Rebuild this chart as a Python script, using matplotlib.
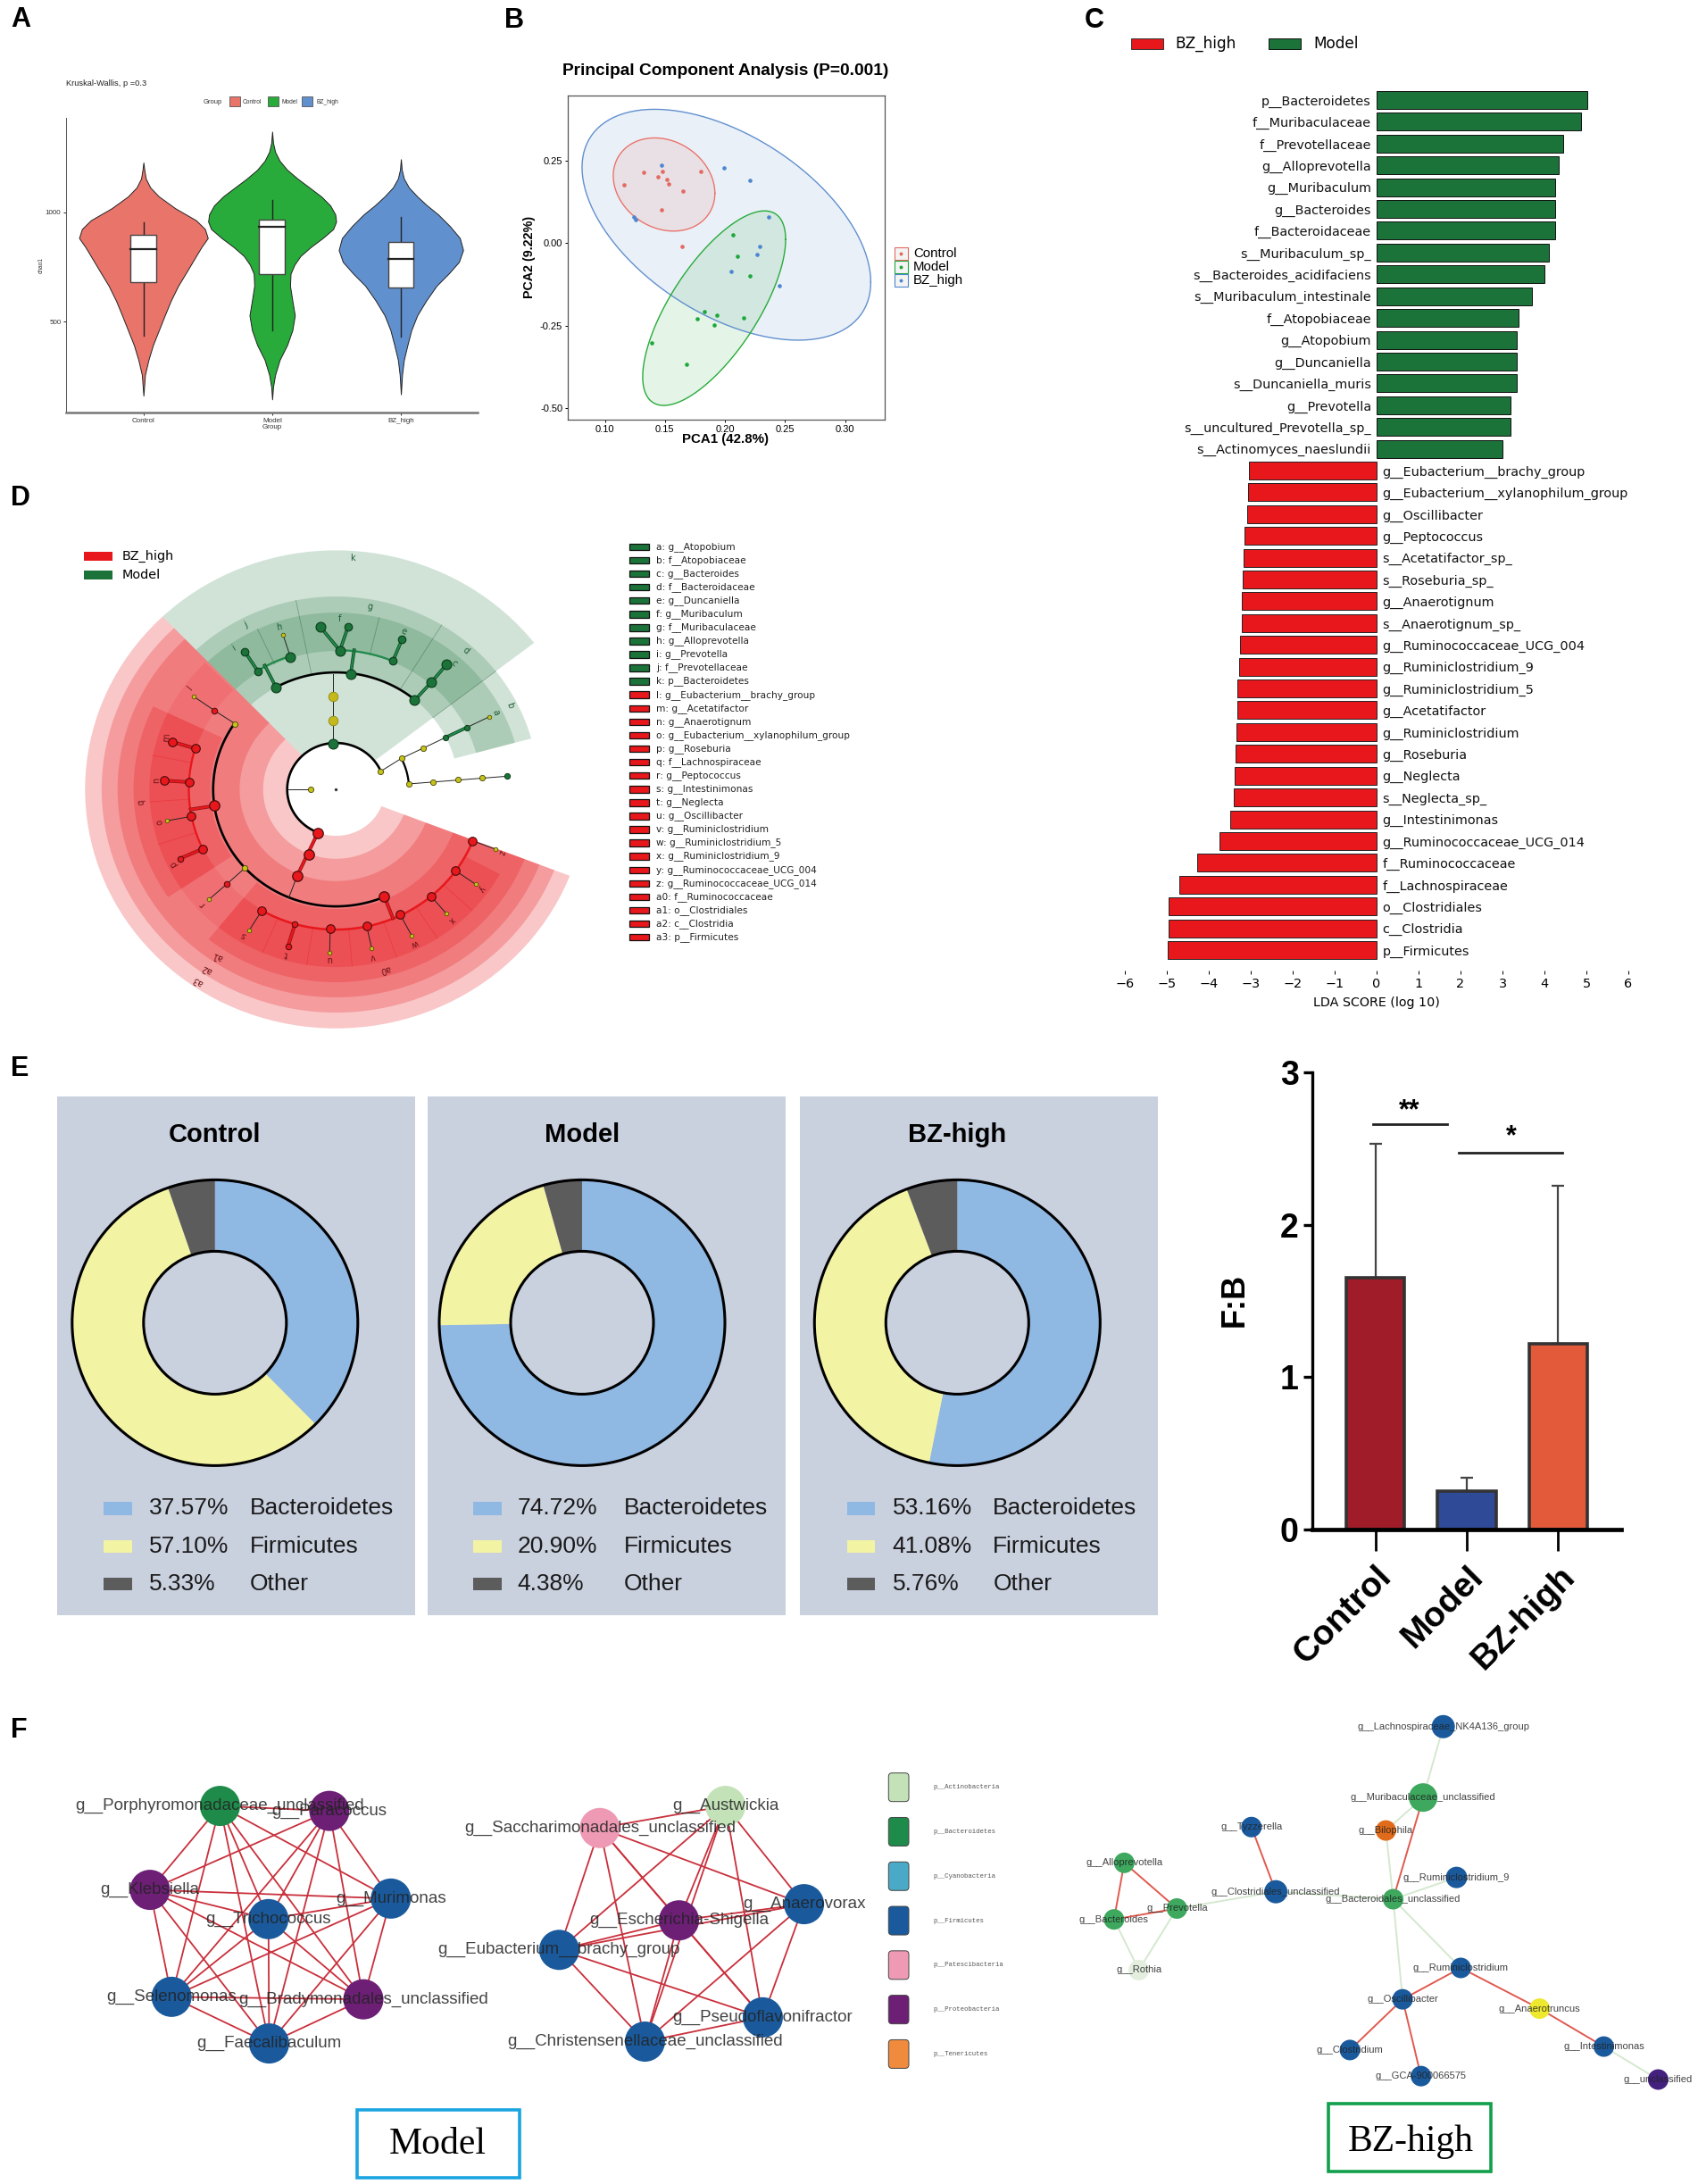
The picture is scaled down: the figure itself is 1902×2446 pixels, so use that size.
"""Figura composta A-F: microbiota (chao1, PCA, LEfSe, F:B e redes de correlação)."""

from itertools import combinations

import numpy as np
import matplotlib
matplotlib.use("Agg")
import matplotlib.pyplot as plt
from matplotlib.patches import FancyBboxPatch, Polygon, Rectangle
from matplotlib.transforms import ScaledTranslation

W, H = 1902, 2446
SANS = "Liberation Sans"
SERIF = "Liberation Serif"
DEJAVU = "DejaVu Sans"

GROUPS = ["Control", "Model", "BZ_high"]
GROUP_COLORS = ["#E9746A", "#28AB3A", "#6190CE"]

# --- A: violinos chao1 (valor, meia largura)
control_vals = [1227, 1194, 1154, 1113, 1072, 1018, 963, 923, 882, 841, 800, 732, 664, 596, 529, 461, 393, 325, 257, 162]
control_half = [0, .007, .018, .053, .12, .247, .409, .478, .50, .451, .409, .34, .27, .213, .166, .12, .074, .039, .012, 0]
model_vals = [1368, 1317, 1276, 1235, 1194, 1154, 1113, 1072, 1031, 990, 957, 923, 882, 841, 800, 760, 719, 664, 596, 529, 461, 393, 325, 257, 202, 145]
model_half = [0, .007, .023, .058, .116, .196, .289, .381, .451, .49, .497, .474, .393, .30, .22, .173, .143, .139, .157, .176, .157, .116, .058, .023, .007, 0]
bz_vals = [1242, 1194, 1154, 1113, 1072, 1031, 990, 936, 882, 827, 773, 719, 664, 596, 529, 461, 393, 325, 257, 168]
bz_half = [0, .007, .023, .062, .127, .203, .289, .381, .458, .483, .451, .37, .277, .196, .127, .081, .051, .023, .009, 0]
box_q3 = [897, 966, 865]
box_median = [830, 935, 787]
box_q1 = [682, 717, 658]
whisker_hi = [952, 1056, 977]
whisker_lo = [436, 461, 433]

# --- B: PCA
pca_control_x = [.116, .132, .148, .144, .152, .153, .180, .165, .147, .164]
pca_control_y = [.178, .214, .217, .200, .193, .181, .218, .157, .102, -.010]
pca_model_x = [.207, .210, .2205, .183, .193, .177, .191, .2156, .139, .168]
pca_model_y = [.025, -.040, -.099, -.208, -.218, -.229, -.247, -.227, -.302, -.366]
pca_bz_x = [.147, .199, .2205, .124, .1256, .236, .229, .2265, .205, .245]
pca_bz_y = [.236, .229, .190, .079, .072, .079, -.009, -.035, -.085, -.128]
# elipses: centro x, semi x, centro y, semi y, fase
ellipse_bz = [.2012, .1202, .056, .350, -.52]
ellipse_control = [.1493, .0423, .178, .1412, -.188]
ellipse_model = [.191, .0595, -.197, .295, .783]

# --- C: LDA
lda_model_labels = [
    "p__Bacteroidetes", "f__Muribaculaceae", "f__Prevotellaceae", "g__Alloprevotella",
    "g__Muribaculum", "g__Bacteroides", "f__Bacteroidaceae", "s__Muribaculum_sp_",
    "s__Bacteroides_acidifaciens", "s__Muribaculum_intestinale", "f__Atopobiaceae",
    "g__Atopobium", "g__Duncaniella", "s__Duncaniella_muris", "g__Prevotella",
    "s__uncultured_Prevotella_sp_", "s__Actinomyces_naeslundii",
]
lda_model_scores = [5.02, 4.88, 4.45, 4.33, 4.26, 4.26, 4.26, 4.10, 4.01, 3.71, 3.38, 3.34, 3.33, 3.34, 3.20, 3.20, 3.01]
lda_bz_labels = [
    "g__Eubacterium__brachy_group", "g__Eubacterium__xylanophilum_group", "g__Oscillibacter",
    "g__Peptococcus", "s__Acetatifactor_sp_", "s__Roseburia_sp_", "g__Anaerotignum",
    "s__Anaerotignum_sp_", "g__Ruminococcaceae_UCG_004", "g__Ruminiclostridium_9",
    "g__Ruminiclostridium_5", "g__Acetatifactor", "g__Ruminiclostridium", "g__Roseburia",
    "g__Neglecta", "s__Neglecta_sp_", "g__Intestinimonas", "g__Ruminococcaceae_UCG_014",
    "f__Ruminococcaceae", "f__Lachnospiraceae", "o__Clostridiales", "c__Clostridia", "p__Firmicutes",
]
lda_bz_scores = [-3.05, -3.07, -3.08, -3.14, -3.18, -3.20, -3.22, -3.22, -3.25, -3.28, -3.31, -3.32,
                 -3.34, -3.36, -3.38, -3.41, -3.50, -3.74, -4.27, -4.70, -4.95, -4.95, -4.98]
RED = "#E8171C"
GREEN = "#1B7339"

# --- D: cladograma
clade_legend = [
    "a: g__Atopobium", "b: f__Atopobiaceae", "c: g__Bacteroides", "d: f__Bacteroidaceae",
    "e: g__Duncaniella", "f: g__Muribaculum", "g: f__Muribaculaceae", "h: g__Alloprevotella",
    "i: g__Prevotella", "j: f__Prevotellaceae", "k: p__Bacteroidetes",
    "l: g__Eubacterium__brachy_group", "m: g__Acetatifactor", "n: g__Anaerotignum",
    "o: g__Eubacterium__xylanophilum_group", "p: g__Roseburia", "q: f__Lachnospiraceae",
    "r: g__Peptococcus", "s: g__Intestinimonas", "t: g__Neglecta", "u: g__Oscillibacter",
    "v: g__Ruminiclostridium", "w: g__Ruminiclostridium_5", "x: g__Ruminiclostridium_9",
    "y: g__Ruminococcaceae_UCG_004", "z: g__Ruminococcaceae_UCG_014", "a0: f__Ruminococcaceae",
    "a1: o__Clostridiales", "a2: c__Clostridia", "a3: p__Firmicutes",
]
# setores: theta1, theta2, r interno, r externo, alfa
red_sectors = [
    (133.7, 338.8, 52, 267.7, .24), (133.7, 338.8, 77.7, 250, .24), (133.7, 338.8, 102.7, 233, .24),
    (154.5, 214, 134, 216, .24), (231, 338.8, 134, 216, .24),
    (154.5, 214, 156, 199, .24), (231, 331.5, 156, 199, .24),
    (134.5, 154.5, 156, 199, .12), (214, 231, 156, 199, .12),
]
green_sectors = [
    (37.8, 133.7, 52, 267.7, .2), (101.4, 133.7, 131, 216, .2), (58.5, 101.4, 131, 216, .2),
    (37.8, 58.5, 131, 216, .2), (15.3, 37.8, 131, 216, .2), (101.4, 133.7, 155, 198, .2),
    (58.5, 101.4, 155, 198, .2), (37.8, 58.5, 155, 198, .2), (15.3, 37.8, 155, 198, .2),
]
# arcos: theta1, theta2, raio, cor, espessura
clade_arcs = [
    (23, 248, 52, "black", 1.9), (50, 119, 131, "black", 1.9), (146, 293, 131, "black", 1.9),
    (4.4, 27, 78, "black", 1.6), (108, 122, 157, "#1F8A4A", 1.6), (67, 88.5, 156, "#1F8A4A", 1.6),
    (163, 205, 157, RED, 1.6), (240, 338.3, 157, RED, 1.8),
]
thin_x0 = [668, 705, 743, 820, 718, 585, 505, 453, 510, 522, 336, 413, 377, 430, 399, 460, 580, 644, 703, 757, 800, 830]
thin_y0 = [843, 807, 779, 722, 877, 766, 891, 568, 528, 1129, 966, 712, 676, 1108, 1151, 1224, 1274, 1267, 1236, 1185, 1115, 1033]
thin_x1 = [705, 743, 782, 859, 890, 585, 546, 430, 497, 507, 294, 377, 341, 399, 367, 438, 579, 653, 723, 784, 835, 870]
thin_y1 = [807, 779, 750, 693, 856, 575, 891, 514, 467, 1190, 978, 676, 638, 1151, 1194, 1278, 1339, 1329, 1293, 1233, 1152, 1056]
thick_green_x0 = [782, 616, 485, 597, 597, 690, 728, 757, 453]
thick_green_y0 = [750, 575, 612, 511, 511, 540, 648, 599, 568]
thick_green_x1 = [820, 622, 465, 563, 611, 706, 757, 784, 430]
thick_green_y1 = [722, 510, 552, 447, 447, 481, 599, 550, 514]
thick_red_x0 = [558, 675, 377, 343, 332, 356, 518]
thick_red_y0 = [1012, 1186, 937, 780, 872, 1055, 1262]
thick_red_x1 = [522, 690, 335, 302, 289, 316, 506]
thick_red_y1 = [1129, 1245, 947, 761, 868, 1082, 1322]
green_big_x = [585, 616, 485, 728, 597, 563, 510, 757, 784]
green_big_y = [766, 575, 612, 648, 511, 447, 528, 599, 550]
green_mid_x = [453, 690, 611, 706, 430]
green_mid_y = [568, 540, 447, 481, 514]
green_small_x = [782, 820, 890]
green_small_y = [750, 722, 856]
yellow_big_x = [585, 585]
yellow_big_y = [638, 702]
yellow_mid_x = [743, 705, 668, 718, 761, 804, 847, 546, 413, 430]
yellow_mid_y = [779, 807, 843, 877, 872, 866, 861, 891, 712, 1108]
yellow_tip_x = [497, 859, 341, 294, 367, 438, 579, 653, 723, 784, 835, 870]
yellow_tip_y = [467, 693, 638, 978, 1194, 1278, 1339, 1329, 1293, 1233, 1152, 1056]
red_big_x = [558, 542, 522, 675, 377]
red_big_y = [1012, 1071, 1129, 1186, 937]
red_mid_x = [343, 332, 336, 356, 302, 289, 460, 580, 644, 703, 757, 800, 830]
red_mid_y = [780, 872, 966, 1055, 761, 868, 1224, 1274, 1267, 1236, 1185, 1115, 1033]
red_small_x = [316, 377, 399, 518, 506]
red_small_y = [1082, 676, 1151, 1262, 1322]
clade_tags = ["k", "j", "h", "i", "f", "g", "e", "d", "c", "b", "a", "l", "m", "n", "q", "o", "p", "r", "s",
              "t", "u", "v", "w", "x", "y", "z", "a0", "a1", "a2", "a3"]
clade_tag_x = [620, 432, 490, 411, 596, 649, 709, 818, 798, 896, 870, 334, 293, 275, 248, 280, 305, 355, 428,
               503, 578, 655, 728, 793, 845, 880, 677, 382, 363, 348]
clade_tag_y = [258, 441, 448, 505, 423, 392, 459, 512, 545, 662, 680, 615, 750, 868, 928, 982, 1097, 1208, 1293,
               1343, 1358, 1350, 1315, 1250, 1165, 1065, 1385, 1350, 1385, 1417]
clade_tag_rot = [0, 25, 10, 30, 0, -10, -20, -40, -45, -70, -70, 50, 85, 90, 95, 100, 120, 135, 150,
                 170, 180, 190, 205, 225, 235, 250, 195, 160, 155, 150]

# --- E: phyla e razão F:B
donut_titles = ["Control", "Model", "BZ-high"]
phyla_names = ["Bacteroidetes", "Firmicutes", "Other"]
phyla_colors = ["#8FB8E3", "#F3F3A4", "#5C5C5C"]
control_phyla = [37.57, 57.10, 5.33]
model_phyla = [74.72, 20.90, 4.38]
bz_phyla = [53.16, 41.08, 5.76]
fb_labels = ["Control", "Model", "BZ-high"]
fb_means = [1.65, 0.25, 1.22]
fb_tops = [2.53, 0.338, 2.254]
fb_colors = ["#A01C28", "#2F4A96", "#E25A3A"]

# --- F: redes
ACTINO, BACTERO, CYANO, FIRMI, PATESCI, PROTEO, TENERI = (
    "#C3E2B8", "#1E8B4A", "#4BA9C8", "#1A5A9C", "#EE9AB4", "#6C1F75", "#F08A3C")
phylum_names = ["p__Actinobacteria", "p__Bacteroidetes", "p__Cyanobacteria", "p__Firmicutes",
                "p__Patescibacteria", "p__Proteobacteria", "p__Tenericutes"]
phylum_colors = [ACTINO, BACTERO, CYANO, FIRMI, PATESCI, PROTEO, TENERI]

net1_names = ["g__Porphyromonadaceae_unclassified", "g__Paracoccus", "g__Klebsiella", "g__Murimonas",
              "g__Trichococcus", "g__Selenomonas", "g__Bradymonadales_unclassified", "g__Faecalibaculum"]
net1_x = [336, 503, 229, 597, 410, 262, 555, 411]
net1_y = [352, 368, 622, 650, 716, 966, 974, 1116]
net1_colors = [BACTERO, PROTEO, PROTEO, FIRMI, FIRMI, FIRMI, PROTEO, FIRMI]
net2_names = ["g__Austwickia", "g__Saccharimonadales_unclassified", "g__Anaerovorax", "g__Escherichia-Shigella",
              "g__Eubacterium__brachy_group", "g__Pseudoflavonifractor", "g__Christensenellaceae_unclassified"]
net2_x = [1108, 916, 1228, 1037, 854, 1165, 985]
net2_y = [352, 423, 668, 720, 815, 1032, 1110]
net2_colors = [ACTINO, PATESCI, FIRMI, PROTEO, FIRMI, FIRMI, FIRMI]

net3_names = ["g__Lachnospiraceae_NK4A136_group", "g__Muribaculaceae_unclassified", "g__Bilophila", "g__Tyzzerella",
              "g__Alloprevotella", "g__Prevotella", "g__Bacteroides", "g__Rothia", "g__Clostridiales_unclassified",
              "g__Bacteroidales_unclassified", "g__Ruminiclostridium_9", "g__Ruminiclostridium", "g__Oscillibacter",
              "g__Anaerotruncus", "g__Clostridium", "g__GCA-900066575", "g__Intestinimonas", "g__unclassified"]
net3_x = [973, 926, 839, 525, 228, 351, 204, 262, 582, 856, 1004, 1014, 878, 1198, 755, 921, 1348, 1475]
net3_y = [97, 325, 431, 420, 535, 682, 717, 880, 628, 652, 582, 873, 974, 1004, 1137, 1221, 1126, 1232]
net3_sizes = [26, 32, 23, 23, 23, 23, 23, 23, 26, 23, 24, 23, 23, 23, 23, 23, 23, 23]
net3_colors = [FIRMI, "#3DA85E", "#E06B1A", FIRMI, "#3DA85E", "#3DA85E", "#3DA85E", "#E3EEDF", FIRMI,
               "#3DA85E", FIRMI, FIRMI, FIRMI, "#EEE82F", FIRMI, FIRMI, FIRMI, "#43217F"]
net3_pos_edges = [(0, 1), (1, 2), (2, 9), (9, 10), (9, 8), (8, 5), (9, 11), (9, 12), (6, 7), (5, 7), (16, 17)]
net3_neg_edges = [(1, 9), (3, 8), (4, 6), (4, 5), (6, 5), (11, 12), (12, 14), (12, 15), (11, 13), (13, 16)]


fig = plt.figure(figsize=(W / 100, H / 100), dpi=100, facecolor="white")


def panel_ax(x0, y0, x1, y1, **kw):
    """Eixos a partir de pixels da figura (origem no canto superior esquerdo)."""
    return fig.add_axes([x0 / W, 1 - y1 / H, (x1 - x0) / W, (y1 - y0) / H], **kw)


def pixel_ax(zorder):
    a = panel_ax(0, 0, W, H)
    a.set_xlim(0, W)
    a.set_ylim(H, 0)
    a.axis("off")
    a.set_zorder(zorder)
    a.patch.set_alpha(0)
    return a


back = pixel_ax(-5)
page = pixel_ax(10)


def label(x, y, s, size=10, family=SANS, ha="left", va="center", **kw):
    page.text(x, y, s, fontsize=size, family=family, ha=ha, va=va, **kw)


for letter, lx, ly in [("A", 23, 22), ("B", 576, 23), ("C", 1226, 23), ("D", 23, 558), ("E", 22, 1197), ("F", 21, 1938)]:
    label(lx, ly, letter, size=22, weight="bold", ha="center")

# ---------- A
ax = panel_ax(74, 132, 535, 462)
ax.set_xlim(0.399, 3.596)
ax.set_ylim(85, 1431)
series = [(control_vals, control_half), (model_vals, model_half), (bz_vals, bz_half)]
for i, (vals, half) in enumerate(series):
    v, h = np.array(vals), np.array(half)
    ax.fill_betweenx(v, i + 1 - h, i + 1 + h, facecolor=GROUP_COLORS[i], edgecolor="#222222", lw=0.7)
    ax.plot([i + 1, i + 1], [whisker_lo[i], whisker_hi[i]], color="#222222", lw=1, zorder=3)
    ax.add_patch(Rectangle((i + 0.9, box_q1[i]), 0.2, box_q3[i] - box_q1[i], fc="white", ec="#444444", lw=1, zorder=4))
    ax.plot([i + 0.9, i + 1.1], [box_median[i]] * 2, color="#222222", lw=1.6, zorder=5)
ax.set_xticks([1, 2, 3], GROUPS, fontsize=5.8, family=SANS, color="#333333")
ax.set_yticks([500, 1000], ["500", "1000"], fontsize=5.8, family=SANS, color="#333333")
ax.tick_params(length=2, width=0.6, pad=2)
for side in ("top", "right"):
    ax.spines[side].set_visible(False)
ax.spines["left"].set_linewidth(0.7)
ax.spines["left"].set_color("#555555")
ax.spines["bottom"].set_linewidth(1.8)
ax.spines["bottom"].set_color("#777777")
label(73.7, 94, "Kruskal-Wallis, p =0.3", size=6.7, color="#222222")
label(228, 114, "Group", size=5.5, color="#333333")
for sx, tx, name, col in zip([256.6, 299.5, 338.3], [271.6, 315.4, 354.2], GROUPS, GROUP_COLORS):
    page.add_patch(Rectangle((sx, 108), 12, 11, fc=col, ec="#555555", lw=0.6))
    label(tx, 114, name, size=4.8, color="#333333")
label(45.8, 297, "chao1", size=4.8, ha="center", rotation=90, color="#333333")
label(304.5, 479, "Group", size=5.8, ha="center", color="#333333")

# ---------- B
ax = panel_ax(635.7, 107, 991.4, 470)
ax.set_xlim(.0689, .3333)
ax.set_ylim(-.535, .4477)
t = np.radians(np.arange(0, 361, 3))
for params, col, fill_a in [(ellipse_bz, GROUP_COLORS[2], .13), (ellipse_control, GROUP_COLORS[0], .12), (ellipse_model, GROUP_COLORS[1], .12)]:
    cx, rx, cy, ry, phi = params
    ex, ey = cx + rx * np.cos(t), cy + ry * np.sin(t + phi)
    ax.fill(ex, ey, facecolor=col, alpha=fill_a, lw=0)
    ax.plot(ex, ey, color=col, lw=1)
for xs, ys, col in [(pca_control_x, pca_control_y, "#E26A60"), (pca_model_x, pca_model_y, "#1EA83C"), (pca_bz_x, pca_bz_y, "#4C86D0")]:
    ax.scatter(xs, ys, s=11, color=col, lw=0, zorder=4)
ax.set_xticks([.10, .15, .20, .25, .30], ["0.10", "0.15", "0.20", "0.25", "0.30"], fontsize=8, family=SANS)
ax.set_yticks([-.5, -.25, 0, .25], ["-0.50", "-0.25", "0.00", "0.25"], fontsize=8, family=SANS)
ax.tick_params(length=2, width=0.7, pad=2)
for sp in ax.spines.values():
    sp.set_color("#555555")
    sp.set_linewidth(0.9)
label(813, 79, "Principal Component Analysis (P=0.001)", size=13.8, weight="bold", ha="center")
label(813, 492, "PCA1 (42.8%)", size=10.8, weight="bold", ha="center")
label(592.6, 288, "PCA2 (9.22%)", size=10.3, weight="bold", ha="center", rotation=90)
for row, (name, col) in enumerate(zip(GROUPS, ["#E26A60", "#1EA83C", "#4C86D0"])):
    yy = 284 + 15 * row
    page.add_patch(Rectangle((1002, yy - 7), 14.5, 14, fc="#F4F4F4", ec=col, lw=0.8))
    page.scatter([1009.2], [yy], s=8, color=col, lw=0)
    label(1023, yy, name, size=10.8)

# ---------- C
ax = panel_ax(1260, 91.5, 1824, 1086.9)
ax.set_xlim(-6, 6)
ax.set_ylim((1086.9 - 112) / 24.41, (91.5 - 112) / 24.41)
n_green = len(lda_model_scores)
ax.barh(np.arange(n_green), lda_model_scores, height=.82, color=GREEN, edgecolor="#111111", lw=0.7)
red_pos = np.arange(len(lda_bz_scores)) + n_green
ax.barh(red_pos, lda_bz_scores, height=.82, color=RED, edgecolor="#222222", lw=0.7)
for i, s in enumerate(lda_model_labels):
    ax.text(-.13, i + .07, s, ha="right", va="center", fontsize=10.4, family=DEJAVU, color="#111111")
for i, s in zip(red_pos, lda_bz_labels):
    ax.text(.14, i + .07, s, ha="left", va="center", fontsize=10.4, family=DEJAVU, color="#111111")
ax.set_xticks(np.arange(-6, 7))
ax.tick_params(axis="x", length=3, width=0.7, labelsize=10.4, pad=3)
ax.set_yticks([])
for sp in ax.spines.values():
    sp.set_visible(False)
label(1542, 1122.5, "LDA SCORE (log 10)", size=10.3, family=DEJAVU, ha="center")
page.add_patch(Rectangle((1267.2, 43), 36, 12, fc=RED, ec="#333333", lw=0.7))
label(1316.4, 49, "BZ_high", size=12.2, family=DEJAVU)
page.add_patch(Rectangle((1420.7, 43), 36, 12, fc=GREEN, ec="#111111", lw=0.7))
label(1470.9, 49, "Model", size=12.2, family=DEJAVU)

# ---------- D (eixos em unidades do recorte; a figura é levemente esticada em x)
ax = panel_ax(0, 520, 1000, 1160)
ax.set_xlim(0, 1568)
ax.set_ylim(1568, 0)
ax.axis("off")
CX, CY, SX, SY = 590, 892, 1.646, 2.45


def polar_xy(theta_deg, r):
    a = np.radians(theta_deg)
    return CX + SX * r * np.cos(a), CY - SY * r * np.sin(a)


def sector(th1, th2, r0, r1, color, alpha):
    th = np.linspace(th1, th2, 80)
    xo, yo = polar_xy(th, r1)
    xi, yi = polar_xy(th[::-1], r0)
    ax.add_patch(Polygon(np.c_[np.r_[xo, xi], np.r_[yo, yi]], fc=color, alpha=alpha, lw=0, zorder=1))


for th1, th2, r0, r1, al in red_sectors:
    sector(th1, th2, r0, r1, RED, al)
for th1, th2, r0, r1, al in green_sectors:
    sector(th1, th2, r0, r1, GREEN, al)
for th, col, r0, r1 in [(101.4, GREEN, 131, 216), (58.5, GREEN, 131, 216), (37.8, GREEN, 131, 216),
                        (115, GREEN, 155, 198), (76.5, GREEN, 155, 198),
                        (169, RED, 156, 199), (184, RED, 156, 199), (198, RED, 156, 199),
                        (246.8, RED, 156, 199), (261, RED, 156, 199), (275, RED, 156, 199),
                        (289, RED, 156, 199), (303, RED, 156, 199), (317, RED, 156, 199)]:
    rx_, ry_ = polar_xy(th, np.array([r0, r1]))
    ax.plot(rx_, ry_, color="#0F4A25" if col == GREEN else col, lw=0.6, alpha=.35, zorder=1.5)
for th1, th2, r, col, lw in clade_arcs:
    ax_, ay_ = polar_xy(np.linspace(th1, th2, 120), r)
    ax.plot(ax_, ay_, color=col, lw=lw, zorder=2, solid_capstyle="round")
for x0, y0, x1, y1 in zip(thin_x0, thin_y0, thin_x1, thin_y1):
    ax.plot([x0, x1], [y0, y1], color="#222222", lw=0.7, zorder=2)
for x0, y0, x1, y1 in zip(thick_green_x0, thick_green_y0, thick_green_x1, thick_green_y1):
    ax.plot([x0, x1], [y0, y1], color="#0B3B1B", lw=2.6, zorder=2)
    ax.plot([x0, x1], [y0, y1], color="#1F8A4A", lw=1.6, zorder=2.1)
for x0, y0, x1, y1 in zip(thick_red_x0, thick_red_y0, thick_red_x1, thick_red_y1):
    ax.plot([x0, x1], [y0, y1], color="#8A1015", lw=2.8, zorder=2)
    ax.plot([x0, x1], [y0, y1], color=RED, lw=1.8, zorder=2.1)
GE, RE, YE = "#0B3B1B", "#4A0A0C", "#444400"
ax.scatter(green_big_x, green_big_y, s=62, color=GREEN, edgecolor=GE, lw=0.8, zorder=3)
ax.scatter(green_mid_x, green_mid_y, s=38, color=GREEN, edgecolor=GE, lw=0.8, zorder=3)
ax.scatter(green_small_x, green_small_y, s=20, color=GREEN, edgecolor=GE, lw=0.7, zorder=3)
ax.scatter(yellow_big_x, yellow_big_y, s=58, color="#C5B81C", edgecolor="#8A8A10", lw=0.6, zorder=3)
ax.scatter(yellow_mid_x, yellow_mid_y, s=20, color="#C5C21C", edgecolor=YE, lw=0.6, zorder=3)
ax.scatter(yellow_tip_x, yellow_tip_y, s=11, color="#C5C21C", edgecolor=YE, lw=0.5, zorder=3)
ax.scatter(red_big_x, red_big_y, s=68, color=RED, edgecolor=RE, lw=0.9, zorder=3)
ax.scatter(red_mid_x, red_mid_y, s=48, color=RED, edgecolor=RE, lw=0.8, zorder=3)
ax.scatter(red_small_x, red_small_y, s=22, color=RED, edgecolor=RE, lw=0.7, zorder=3)
ax.scatter([CX], [CY], s=2, color="#333333", zorder=3)
for tag, tx, ty, rot in zip(clade_tags, clade_tag_x, clade_tag_y, clade_tag_rot):
    col = "#1E5C34" if tag in "abcdefghijk" and len(tag) == 1 else "#6B1216"
    ax.text(tx, ty, tag, fontsize=7, family=DEJAVU, color=col, rotation=rot, ha="center", va="center", zorder=4)
page.add_patch(Rectangle((93.8, 618), 32, 10, fc=RED, lw=0))
label(137, 623, "BZ_high", size=10.4, family=DEJAVU)
page.add_patch(Rectangle((93.8, 639), 32, 10, fc=GREEN, lw=0))
label(137, 644, "Model", size=10.4, family=DEJAVU)
for i, s in enumerate(clade_legend):
    yy = 612.2 + i * 15.08
    page.add_patch(Rectangle((704.7, yy - 3.6), 22, 7.5, fc=GREEN if i < 11 else RED, ec="#111111", lw=0.9))
    label(734.7, yy, s, size=7.55, family=DEJAVU, color="#222222")

# ---------- E
panel_x = [64.3, 479, 896.4]
centers = [240.8, 652, 1072.3]
phyla_all = [control_phyla, model_phyla, bz_phyla]
square_x = [116.4, 530, 948.6]
pct_x = [167.4, 579.8, 999.5]
name_x = [280.2, 698.7, 1112.3]
for k in range(3):
    back.add_patch(Rectangle((panel_x[k], 1228), 400.5, 581, fc="#C9D0DE", lw=0))
    label(centers[k], 1271, donut_titles[k], size=21, weight="bold", ha="center")
    R = 160
    dax = panel_ax(centers[k] - R * 1.03, 1481.4 - R * 1.03, centers[k] + R * 1.03, 1481.4 + R * 1.03)
    dax.patch.set_alpha(0)
    wedges, pie_texts = dax.pie(phyla_all[k], colors=phyla_colors, startangle=90, counterclock=False, radius=1,
                                wedgeprops=dict(width=.5, lw=0))
    for tx in pie_texts:
        tx.remove()
    dax.set_xlim(-1.03, 1.03)
    dax.set_ylim(-1.03, 1.03)
    dax.add_patch(plt.Circle((0, 0), 1, fill=False, ec="black", lw=2.2))
    dax.add_patch(plt.Circle((0, 0), .5, fill=False, ec="black", lw=2.2))
    for row, yy in enumerate([1689.3, 1731.7, 1773.7]):
        page.add_patch(Rectangle((square_x[k], yy - 7), 31.5, 14.5, fc=phyla_colors[row], lw=0))
        label(pct_x[k], yy, f"{phyla_all[k][row]:.2f}%", size=19, color="#1A1A1A")
        label(name_x[k], yy, phyla_names[row], size=19, color="#1A1A1A")

ax = panel_ax(1470, 1201.2, 1816, 1712.8)
ax.set_xlim(-.688, 2.688)
ax.set_ylim(0, 3)
ax.bar(range(3), fb_means, width=.64, color=fb_colors, edgecolor="#333333", lw=2.6, zorder=2)
for i in range(3):
    ax.errorbar(i, fb_means[i], yerr=[[0], [fb_tops[i] - fb_means[i]]], color="#444444", lw=1.6, capsize=5, capthick=1.6, zorder=1)
ax.set_xticks(range(3))
ax.set_xticklabels(fb_labels, rotation=45, ha="right", rotation_mode="anchor", fontsize=28, family=SANS, weight="bold")
shift = ScaledTranslation(-8 / 100, 0, fig.dpi_scale_trans)
for tick_text in ax.get_xticklabels():
    tick_text.set_transform(tick_text.get_transform() + shift)
ax.set_yticks([0, 1, 2, 3], ["0", "1", "2", "3"], fontsize=27, family=SANS, weight="bold")
ax.tick_params(axis="x", length=17, width=2, pad=8)
ax.tick_params(axis="y", length=7, width=2.4, pad=4)
ax.patch.set_alpha(0)
for side in ("top", "right"):
    ax.spines[side].set_visible(False)
ax.spines["left"].set_linewidth(2.4)
ax.spines["bottom"].set_linewidth(3.4)
label(1383, 1455.7, "F:B", size=26, weight="bold", ha="center", rotation=90)
page.plot([1538, 1620.6], [1258.8, 1258.8], color="#222222", lw=2)
label(1579, 1244, "**", size=22, weight="bold", ha="center")
page.plot([1634, 1750], [1290.5, 1290.5], color="#222222", lw=2)
label(1693, 1273, "*", size=22, weight="bold", ha="center")

# ---------- F
ax = panel_ax(0, 1900, 1150, 2446)
ax.set_xlim(0, 1568)
ax.set_ylim(1568, 0)
ax.axis("off")
for xs, ys, cols, names in [(net1_x, net1_y, net1_colors, net1_names), (net2_x, net2_y, net2_colors, net2_names)]:
    for a, b in combinations(range(len(xs)), 2):
        ax.plot([xs[a], xs[b]], [ys[a], ys[b]], color="#C9303C", lw=1.3, zorder=1)
    ax.scatter(xs, ys, s=(45 * .72) ** 2, c=cols, lw=0, zorder=2)
    for nm, nx, ny in zip(names, xs, ys):
        ax.text(nx, ny, nm, fontsize=13.5, family=SANS, ha="center", va="center", color="#222222", alpha=.85, zorder=3)
for yy, nm, col in zip([292, 435, 578, 721, 864, 1007, 1150], phylum_names, phylum_colors):
    y_px = 1900 + yy * .3482
    page.add_patch(FancyBboxPatch((995.3, y_px - 16), 22.7, 32, boxstyle="round,pad=0,rounding_size=4", fc=col, ec="#444444", lw=0.7))
    label(1045.8, y_px, nm, size=5.3, family="Liberation Mono", color="#555555")
page.add_patch(Rectangle((399.7, 2363), 181.9, 76, fill=False, ec="#1BA5E0", lw=2.6))
label(490.6, 2402, "Model", size=30, family=SERIF, ha="center")

ax = panel_ax(1150, 1900, 1902, 2446)
ax.set_xlim(0, 1568)
ax.set_ylim(1568, 0)
ax.axis("off")
for edges, col in [(net3_pos_edges, "#D5E8D0"), (net3_neg_edges, "#E05A50")]:
    for a, b in edges:
        ax.plot([net3_x[a], net3_x[b]], [net3_y[a], net3_y[b]], color=col, lw=1.4, zorder=1)
ax.scatter(net3_x, net3_y, s=[(d * .72) ** 2 for d in net3_sizes], c=net3_colors, lw=0, zorder=2)
for nm, nx, ny in zip(net3_names, net3_x, net3_y):
    ax.text(nx, ny, nm, fontsize=8, family=SANS, ha="center", va="center", color="#222222", alpha=.85, zorder=3)
page.add_patch(Rectangle((1488, 2356), 182.4, 76, fill=False, ec="#12A04C", lw=2.6))
label(1580, 2399, "BZ-high", size=30, family=SERIF, ha="center")

fig.savefig("out.png", dpi=100)
plt.close(fig)
